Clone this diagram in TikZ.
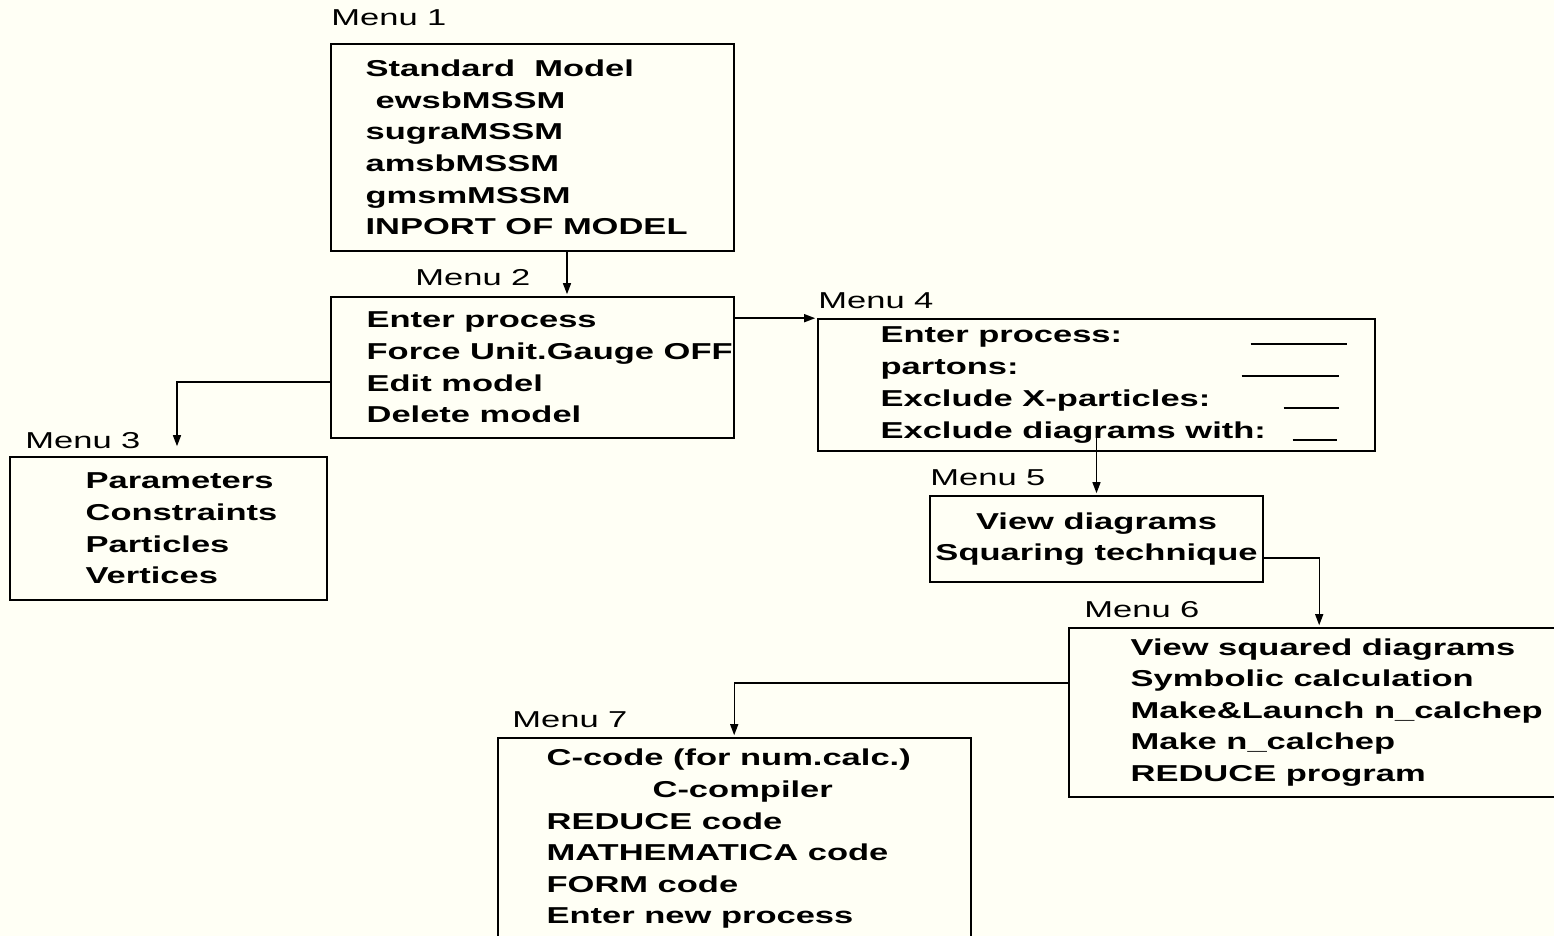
\documentclass[tikz,border=0pt]{standalone}
\usepackage{fontspec}
\newfontfamily\menufont{Liberation Sans}[FakeStretch=1.5]
\usetikzlibrary{arrows.meta, positioning}
\definecolor{paper}{RGB}{255,255,245}
\newcommand{\blankfield}[1]{\rule[-1.2pt]{#1}{1pt}}
\tikzset{
  menubox/.style={draw, line width=0.8pt, inner sep=0pt},
  menulist/.style={inner sep=0pt, align=left, font=\menufont\fontsize{11.5pt}{15.8pt}\selectfont\bfseries},
  menulabel/.style={anchor=base west, inner sep=0pt, font=\menufont\fontsize{11.5pt}{12pt}\selectfont},
  link/.style={-{Triangle[length=5.5pt,width=4pt]}, line width=0.7pt, shorten >=1pt}
}

\begin{document}
\begin{tikzpicture}[x=0.5pt, y=-0.5pt]
  % Page
  \fill[paper] (0,0) rectangle (1554,936);
  \useasboundingbox (0,0) rectangle (1554,936);

  % Menu 1
  \node[menulabel] (lab1) at (331,26) {Menu 1};
  \node[menubox, minimum width=201.5pt, minimum height=103.5pt] (m1) at (532.5,147.5) {};
  \node[menulist, right=17.5pt of m1.west] (m1list) {Standard\ \ Model\\ \hspace*{5pt}ewsbMSSM\\ sugraMSSM\\ amsbMSSM\\ gmsmMSSM\\ INPORT OF MODEL};

  % Menu 2
  \node[menulabel] (lab2) at (415,286) {Menu 2};
  \node[menubox, minimum width=201.5pt, minimum height=70.5pt] (m2) at (532.5,367.5) {};
  \node[menulist, right=18pt of m2.west] (m2list) {Enter process\\ Force Unit.Gauge OFF\\ Edit model\\ Delete model};

  % Menu 3
  \node[menulabel] (lab3) at (25,448) {Menu 3};
  \node[menubox, minimum width=158.5pt, minimum height=71.5pt] (m3) at (168.5,528.5) {};
  \node[menulist, right=38pt of m3.west] (m3list) {Parameters\\ Constraints\\ Particles\\ Vertices};

  % Menu 4
  \node[menulabel] (lab4) at (818,309) {Menu 4};
  \node[menubox, minimum width=278.5pt, minimum height=66pt] (m4) at (1096.5,385) {};
  \node[menulist, right=31.5pt of m4.west, font=\menufont\fontsize{11.5pt}{16pt}\selectfont\bfseries] (m4list) {%
    \makebox[233pt][s]{Enter process:\hfill\blankfield{48pt}}\\
    \makebox[233pt][s]{partons:\hfill\blankfield{48.5pt}\hspace{4pt}}\\
    \makebox[233pt][s]{Exclude X-particles:\hfill\blankfield{27.5pt}\hspace{4pt}}\\
    \makebox[233pt][s]{Exclude diagrams with:\hfill\blankfield{22pt}\hspace{5pt}}};

  % Menu 5
  \node[menulabel] (lab5) at (930,485) {Menu 5};
  \node[menubox, menulist, draw, minimum width=166.5pt, minimum height=43pt, align=center] (m5) at (1096.5,539) {View diagrams\\ Squaring technique};

  % Menu 6
  \node[menulabel] (lab6) at (1084,617) {Menu 6};
  \node[menubox, minimum width=265.5pt, minimum height=84.5pt] (m6) at (1334.5,712.5) {};
  \node[menulist, right=31pt of m6.west] (m6list) {View squared diagrams\\ Symbolic calculation\\ Make\&Launch n\_calchep\\ Make n\_calchep\\ REDUCE program};

  % Menu 7
  \node[menulabel] (lab7) at (512,727) {Menu 7};
  \node[menubox, minimum width=236.5pt, minimum height=101pt] (m7) at (734.5,839) {};
  \node[menulist, right=24.5pt of m7.west] (m7list) {C-code (for num.calc.)\\ \hspace*{53pt}C-compiler\\ REDUCE code\\ MATHEMATICA code\\ FORM code\\ Enter new process};

  % Connections
  \draw[link] ([xshift=17.25pt]m1.south) -- ([xshift=17.25pt]m2.north);
  \draw[link] (m2.east |- m4.north west) -- (m4.north west);
  \draw[link, shorten >=5pt] ([yshift=-7.25pt]m2.west) -| ([xshift=4.25pt]m3.north);
  \draw[link] ([yshift=9pt]m4.south) -- (m5.north);
  \draw[link] ([yshift=-9.5pt]m5.east) -| ([xshift=125.5pt]m6.north west);
  \draw[link] ([yshift=14.75pt]m6.west) -| ([xshift=118.5pt]m7.north west);
\end{tikzpicture}
\end{document}
